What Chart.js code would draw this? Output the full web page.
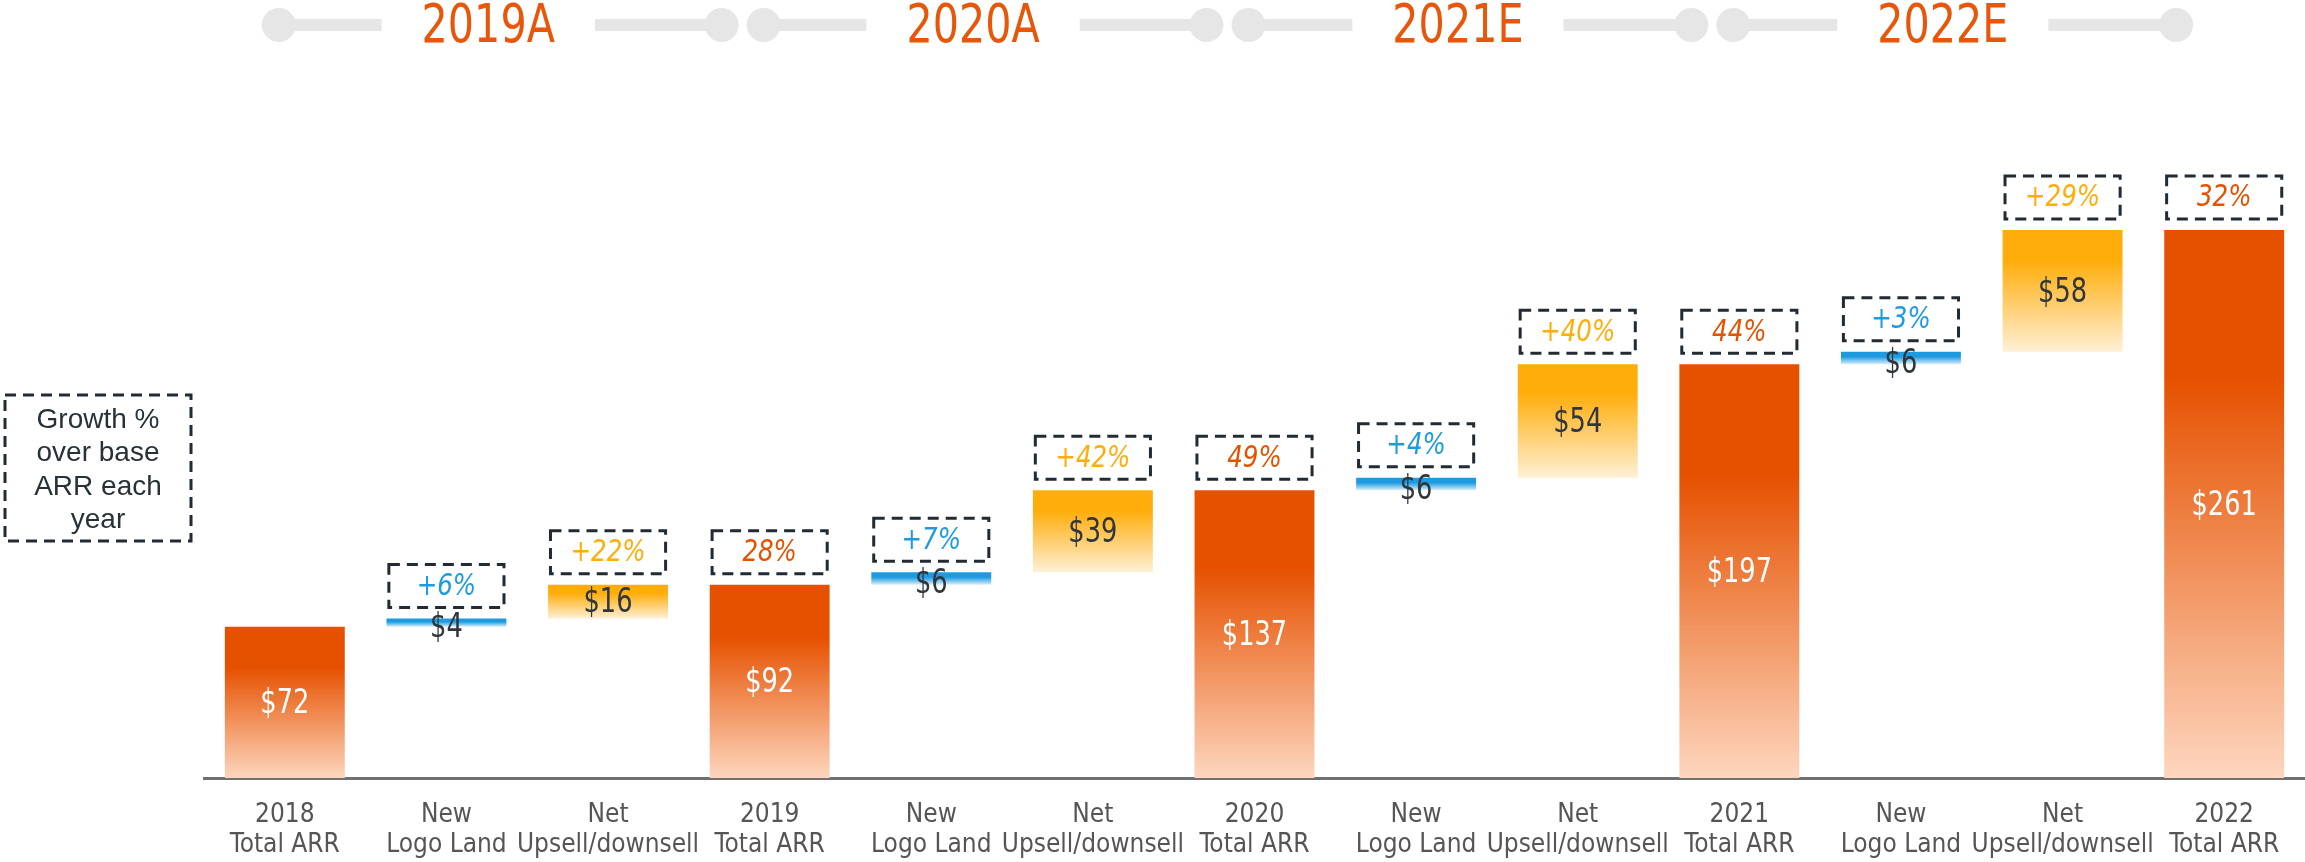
<!DOCTYPE html>
<html><head><meta charset="utf-8">
<style>html,body{margin:0;padding:0;background:#fff;}#wrap{width:2305px;height:862px;position:relative;}</style>
<script src="https://cdn.jsdelivr.net/npm/chart.js@4.4.0/dist/chart.umd.min.js"></script>
</head><body><div id="wrap"><canvas id="c" width="2305" height="862"></canvas></div>
<script>
const categories = [
  ["2018","Total ARR"],["New","Logo Land"],["Net","Upsell/downsell"],["2019","Total ARR"],
  ["New","Logo Land"],["Net","Upsell/downsell"],["2020","Total ARR"],
  ["New","Logo Land"],["Net","Upsell/downsell"],["2021","Total ARR"],
  ["New","Logo Land"],["Net","Upsell/downsell"],["2022","Total ARR"]
];
const totalARR = [72, 92, 137, 197, 261];
const newLogo = [4, 6, 6, 6];
const netUpsell = [16, 39, 54, 58];
const newLogoPct = ["+6%", "+7%", "+4%", "+3%"];
const upsellPct = ["+22%", "+42%", "+40%", "+29%"];
const totalPct = ["28%", "49%", "44%", "32%"];
const periods = ["2019A", "2020A", "2021E", "2022E"];
const legendLines = ["Growth %", "over base", "ARR each", "year"];

// build floating-bar table from the arrays
const ranges = [], kinds = [], valueLabels = [], pctLabels = [];
ranges.push([0, totalARR[0]]); kinds.push('total'); valueLabels.push('$' + totalARR[0]); pctLabels.push(null);
for (let i = 0; i < newLogo.length; i++) {
  const b = totalARR[i];
  ranges.push([b, b + newLogo[i]]); kinds.push('new'); valueLabels.push('$' + newLogo[i]); pctLabels.push(newLogoPct[i]);
  ranges.push([b + newLogo[i], b + newLogo[i] + netUpsell[i]]); kinds.push('up'); valueLabels.push('$' + netUpsell[i]); pctLabels.push(upsellPct[i]);
  ranges.push([0, totalARR[i + 1]]); kinds.push('total'); valueLabels.push('$' + totalARR[i + 1]); pctLabels.push(totalPct[i]);
}

const NARROW = "'DejaVu Sans Condensed', 'Liberation Sans Narrow', sans-serif";
const COL = {
  total: ['#E65100', '#FDD6BE', 0.27],
  up: ['#FFAD0A', '#FFF0D6', 0.25],
  new: ['#1E9BE0', '#DCEFFB', 0.4]
};
const PCTCOL = { total: '#E65100', up: '#FFAD0A', new: '#1E9BE0' };

function barBg(ctx) {
  const chart = ctx.chart;
  const k = kinds[ctx.dataIndex];
  const c = COL[k];
  if (!chart.chartArea || !chart.scales.y) return c[0];
  const r = ranges[ctx.dataIndex];
  const y = chart.scales.y;
  const top = y.getPixelForValue(r[1]), bot = y.getPixelForValue(r[0]);
  const g = chart.ctx.createLinearGradient(0, top, 0, bot);
  g.addColorStop(0, c[0]); g.addColorStop(c[2], c[0]); g.addColorStop(1, c[1]);
  return g;
}

function narrowText(ctx, text, x, y, sx) {
  ctx.save();
  ctx.translate(x, y);
  ctx.scale(sx, 1);
  ctx.fillText(text, 0, 0);
  ctx.restore();
}

const overlay = {
  id: 'overlay',
  afterDatasetsDraw(chart) {
    const ctx = chart.ctx;
    const meta = chart.getDatasetMeta(0);
    const xs = chart.scales.x;
    ctx.save();
    ctx.textAlign = 'center'; ctx.textBaseline = 'middle';
    // value labels and pct boxes
    meta.data.forEach((bar, i) => {
      const k = kinds[i];
      const top = Math.min(bar.y, bar.base), bot = Math.max(bar.y, bar.base);
      ctx.font = '34px ' + NARROW;
      ctx.fillStyle = k === 'total' ? '#ffffff' : '#30363b';
      narrowText(ctx, valueLabels[i], bar.x, (top + bot) / 2 + (k === 'new' ? 6 : 2), 0.84);
      if (pctLabels[i]) {
        const w = bar.width * 0.96, h = 43;
        const by = top - 11 - h;
        ctx.setLineDash([11, 7]); ctx.lineWidth = 3; ctx.strokeStyle = '#222b33';
        ctx.strokeRect(bar.x - w / 2, by, w, h);
        ctx.setLineDash([]);
        ctx.font = 'italic 31px ' + NARROW;
        ctx.fillStyle = PCTCOL[k];
        narrowText(ctx, pctLabels[i], bar.x, by + h / 2 + 1, 0.88);
      }
    });
    // legend box
    ctx.setLineDash([11, 7]); ctx.lineWidth = 3; ctx.strokeStyle = '#222b33';
    ctx.strokeRect(5, 395, 186, 146);
    ctx.setLineDash([]);
    ctx.font = "28px 'Liberation Sans', 'DejaVu Sans', sans-serif";
    ctx.fillStyle = '#263238';
    legendLines.forEach((t, j) => ctx.fillText(t, 98, 420 + j * 33.5));
    // header segments
    periods.forEach((p, i) => {
      const L = xs.getPixelForValue(3 * i) - 6;
      const R = xs.getPixelForValue(3 * i + 3) - 48;
      const cy = 25;
      const mid = (L + R) / 2 - 12;
      ctx.font = '54px ' + NARROW;
      const tw = ctx.measureText(p).width * 0.85;
      ctx.strokeStyle = '#e6e6e6'; ctx.lineWidth = 12; ctx.lineCap = 'butt';
      ctx.beginPath();
      ctx.moveTo(L, cy); ctx.lineTo(mid - tw / 2 - 40, cy);
      ctx.moveTo(mid + tw / 2 + 40, cy); ctx.lineTo(R, cy);
      ctx.stroke();
      ctx.fillStyle = '#e6e6e6';
      [L, R].forEach(x => { ctx.beginPath(); ctx.arc(x, cy, 17, 0, Math.PI * 2); ctx.fill(); });
      ctx.fillStyle = '#E8560A';
      narrowText(ctx, p, mid, cy + 3, 0.85);
    });
    ctx.restore();
  }
};

new Chart(document.getElementById('c'), {
  type: 'bar',
  data: {
    labels: categories,
    datasets: [{
      data: ranges,
      backgroundColor: barBg,
      borderWidth: 0,
      barPercentage: 0.742,
      categoryPercentage: 1.0
    }]
  },
  options: {
    responsive: false,
    animation: false,
    devicePixelRatio: 1,
    layout: { padding: { left: 204, top: 148, right: 0, bottom: 0 } },
    plugins: { legend: { display: false }, tooltip: { enabled: false } },
    scales: {
      x: {
        grid: { display: false, drawTicks: false },
        border: { display: true, color: '#707070', width: 3 },
        ticks: { color: '#555555', padding: 22, font: { family: NARROW, size: 26, lineHeight: 1.15 }, maxRotation: 0, autoSkip: false },
        afterFit: s => { s.height = 84; }
      },
      y: { display: false, min: 0, max: 300 }
    }
  },
  plugins: [overlay]
});
</script>
</body></html>
